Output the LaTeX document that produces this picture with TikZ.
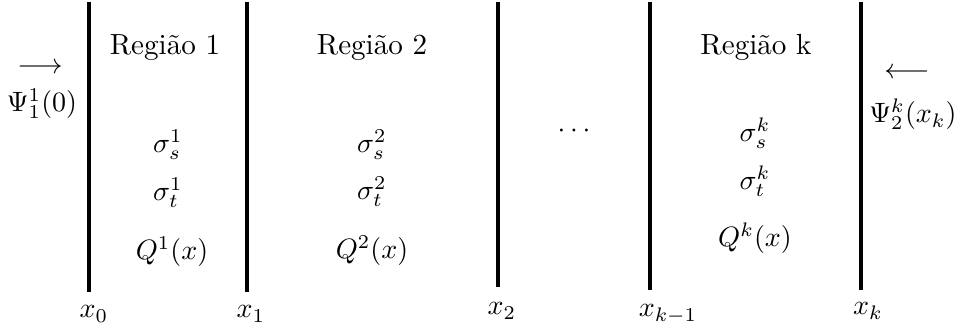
\documentclass[tikz,border=0pt]{standalone}
\begin{document}
\begin{tikzpicture}[x=0.012565cm,y=-0.012565cm,
  wall/.style={line width=1.15pt},
  lbl/.style={anchor=base,inner sep=0pt,outer sep=0pt,font=\fontsize{10.4}{12}\selectfont}]
\useasboundingbox (0,0) rectangle (955,334);
% walls
\foreach \n/\x/\yb in {0/89/292,1/247/292,2/498/287,3/650/290,4/861/290}{
  \coordinate (t\n) at (\x,2);
  \coordinate (b\n) at (\x,\yb);
  \draw[wall] (t\n) -- (b\n);
}
% position labels
\node[lbl] (p0) at (94,318) {$x_0$};
\node[lbl] (p1) at (251,318) {$x_1$};
\node[lbl] (p2) at (502,315) {$x_2$};
\node[lbl] (p3) at (668,317) {$x_{k-1}$};
\node[lbl] (p4) at (868,315) {$x_k$};
% region titles
\node[lbl] (r1) at (165,55) {Região 1};
\node[lbl] (r2) at (372,55) {Região 2};
\node[lbl] (rk) at (756,55) {Região k};
% region 1
\node[lbl] (s1) at (168,153) {$\sigma_s^1$};
\node[lbl] (u1) at (168,201) {$\sigma_t^1$};
\node[lbl] (q1) at (172,260) {$Q^1(x)$};
% region 2
\node[lbl] (s2) at (372,153) {$\sigma_s^2$};
\node[lbl] (u2) at (372,200) {$\sigma_t^2$};
\node[lbl] (q2) at (372,259) {$Q^2(x)$};
% dots
\node[lbl] (dots) at (574,138) {$\cdots$};
% region k
\node[lbl] (sk) at (755,142) {$\sigma_s^k$};
\node[lbl] (uk) at (755,190) {$\sigma_t^k$};
\node[lbl] (qk) at (755,247) {$Q^k(x)$};
% boundary conditions
\node[lbl] (al) at (40,74) {$\longrightarrow$};
\node[lbl] (psiL) at (42,112) {$\Psi_1^1(0)$};
\node[lbl] (ar) at (907,79) {$\longleftarrow$};
\node[lbl] (psiR) at (913,123) {$\Psi_2^k(x_k)$};
\end{tikzpicture}
\end{document}
